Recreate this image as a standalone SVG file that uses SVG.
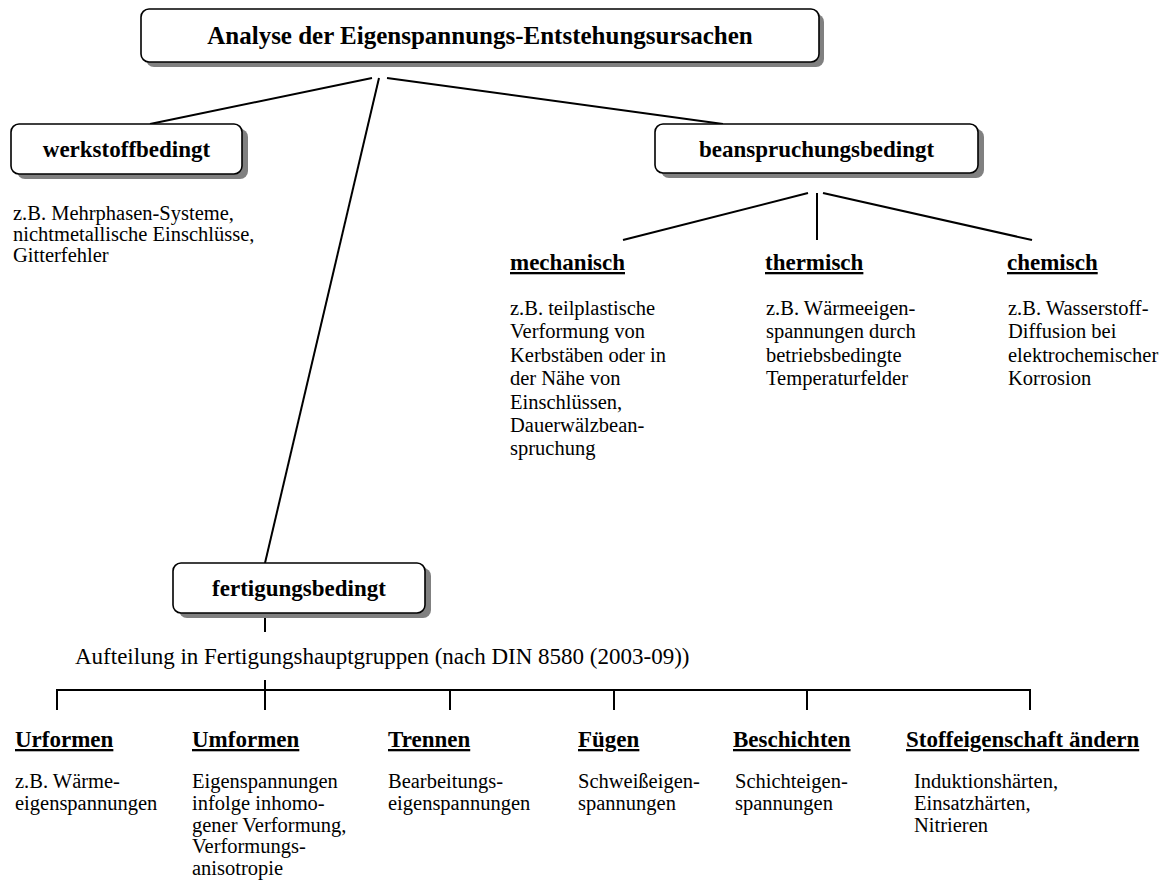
<svg xmlns="http://www.w3.org/2000/svg" width="1165" height="887" viewBox="0 0 1165 887">
<style>
.box{fill:#fff;stroke:#000;stroke-width:1.6}
.shd{fill:#808080}
.bt{font-family:"Liberation Serif","Times New Roman",serif;font-weight:bold;font-size:23px;text-anchor:middle;fill:#000}
.hd{font-family:"Liberation Serif","Times New Roman",serif;font-weight:bold;font-size:23px;fill:#000;text-decoration:underline;text-decoration-thickness:2.5px}
.tx{font-family:"Liberation Serif","Times New Roman",serif;font-weight:normal;font-size:20.5px;fill:#000}
.ln{stroke:#000;stroke-width:2;fill:none}
</style>
<rect width="1165" height="887" fill="#fff"/>
<g id="connectors" class="ln">
<line x1="372" y1="78" x2="150" y2="124"/>
<line x1="379" y1="78" x2="265" y2="563"/>
<line x1="387" y1="78" x2="723" y2="124"/>
<line x1="808" y1="193" x2="623" y2="240"/>
<line x1="817" y1="193" x2="817" y2="240"/>
<line x1="823" y1="193" x2="1032" y2="240"/>
<line x1="265" y1="617" x2="265" y2="632"/>
<line x1="265" y1="680" x2="265" y2="690"/>
<line x1="57" y1="690" x2="1031" y2="690"/>
<line x1="57" y1="689" x2="57" y2="710"/>
<line x1="265" y1="689" x2="265" y2="710"/>
<line x1="450" y1="689" x2="450" y2="710"/>
<line x1="614" y1="689" x2="614" y2="710"/>
<line x1="807" y1="689" x2="807" y2="710"/>
<line x1="1030" y1="689" x2="1030" y2="710"/>
</g>
<g id="title">
<rect class="shd" x="146" y="14" width="678" height="53" rx="8"/>
<rect class="box" x="141" y="9" width="678" height="53" rx="8"/>
<text class="bt" x="480" y="44" style="font-size:25px">Analyse der Eigenspannungs-Entstehungsursachen</text>
</g>
<g id="werkstoff">
<rect class="shd" x="17" y="129" width="231" height="50" rx="8"/>
<rect class="box" x="11" y="124" width="231" height="50" rx="8"/>
<text class="bt" x="126.5" y="157">werkstoffbedingt</text>
<text class="tx" x="13" y="220">z.B. Mehrphasen-Systeme,</text>
<text class="tx" x="13" y="241">nichtmetallische Einschlüsse,</text>
<text class="tx" x="13" y="262">Gitterfehler</text>
</g>
<g id="beansp">
<rect class="shd" x="661" y="129" width="323" height="49" rx="8"/>
<rect class="box" x="655" y="124" width="323" height="49" rx="8"/>
<text class="bt" x="816.5" y="157">beanspruchungsbedingt</text>
</g>
<g id="mechanisch">
<text class="hd" x="510" y="270">mechanisch</text>
<text class="tx" x="510" y="315">z.B. teilplastische</text>
<text class="tx" x="510" y="338.4">Verformung von</text>
<text class="tx" x="510" y="361.8">Kerbstäben oder in</text>
<text class="tx" x="510" y="385.2">der Nähe von</text>
<text class="tx" x="510" y="408.6">Einschlüssen,</text>
<text class="tx" x="510" y="432">Dauerwälzbean-</text>
<text class="tx" x="510" y="455.4">spruchung</text>
</g>
<g id="thermisch">
<text class="hd" x="765" y="270">thermisch</text>
<text class="tx" x="766" y="315">z.B. Wärmeeigen-</text>
<text class="tx" x="766" y="338.4">spannungen durch</text>
<text class="tx" x="766" y="361.8">betriebsbedingte</text>
<text class="tx" x="766" y="385.2">Temperaturfelder</text>
</g>
<g id="chemisch">
<text class="hd" x="1007" y="270">chemisch</text>
<text class="tx" x="1008" y="315">z.B. Wasserstoff-</text>
<text class="tx" x="1008" y="338.4">Diffusion bei</text>
<text class="tx" x="1008" y="361.8">elektrochemischer</text>
<text class="tx" x="1008" y="385.2">Korrosion</text>
</g>
<g id="fertigung">
<rect class="shd" x="179" y="568" width="252" height="50" rx="8"/>
<rect class="box" x="173" y="563" width="252" height="50" rx="8"/>
<text class="bt" x="299" y="596">fertigungsbedingt</text>
<text class="tx" x="75" y="664" style="font-size:23px">Aufteilung in Fertigungshauptgruppen (nach DIN 8580 (2003-09))</text>
</g>
<g id="urformen">
<text class="hd" x="15" y="747">Urformen</text>
<text class="tx" x="15" y="788">z.B. Wärme-</text>
<text class="tx" x="15" y="809.8">eigenspannungen</text>
</g>
<g id="umformen">
<text class="hd" x="192" y="747">Umformen</text>
<text class="tx" x="192" y="788">Eigenspannungen</text>
<text class="tx" x="192" y="809.8">infolge inhomo-</text>
<text class="tx" x="192" y="831.6">gener Verformung,</text>
<text class="tx" x="192" y="853.4">Verformungs-</text>
<text class="tx" x="192" y="875.2">anisotropie</text>
</g>
<g id="trennen">
<text class="hd" x="388" y="747">Trennen</text>
<text class="tx" x="388" y="788">Bearbeitungs-</text>
<text class="tx" x="388" y="809.8">eigenspannungen</text>
</g>
<g id="fuegen">
<text class="hd" x="578" y="747">Fügen</text>
<text class="tx" x="578" y="788">Schweißeigen-</text>
<text class="tx" x="578" y="809.8">spannungen</text>
</g>
<g id="beschichten">
<text class="hd" x="733" y="747">Beschichten</text>
<text class="tx" x="735" y="788">Schichteigen-</text>
<text class="tx" x="735" y="809.8">spannungen</text>
</g>
<g id="stoff">
<text class="hd" x="906" y="747">Stoffeigenschaft ändern</text>
<text class="tx" x="914" y="788">Induktionshärten,</text>
<text class="tx" x="914" y="809.8">Einsatzhärten,</text>
<text class="tx" x="914" y="831.6">Nitrieren</text>
</g>
</svg>
